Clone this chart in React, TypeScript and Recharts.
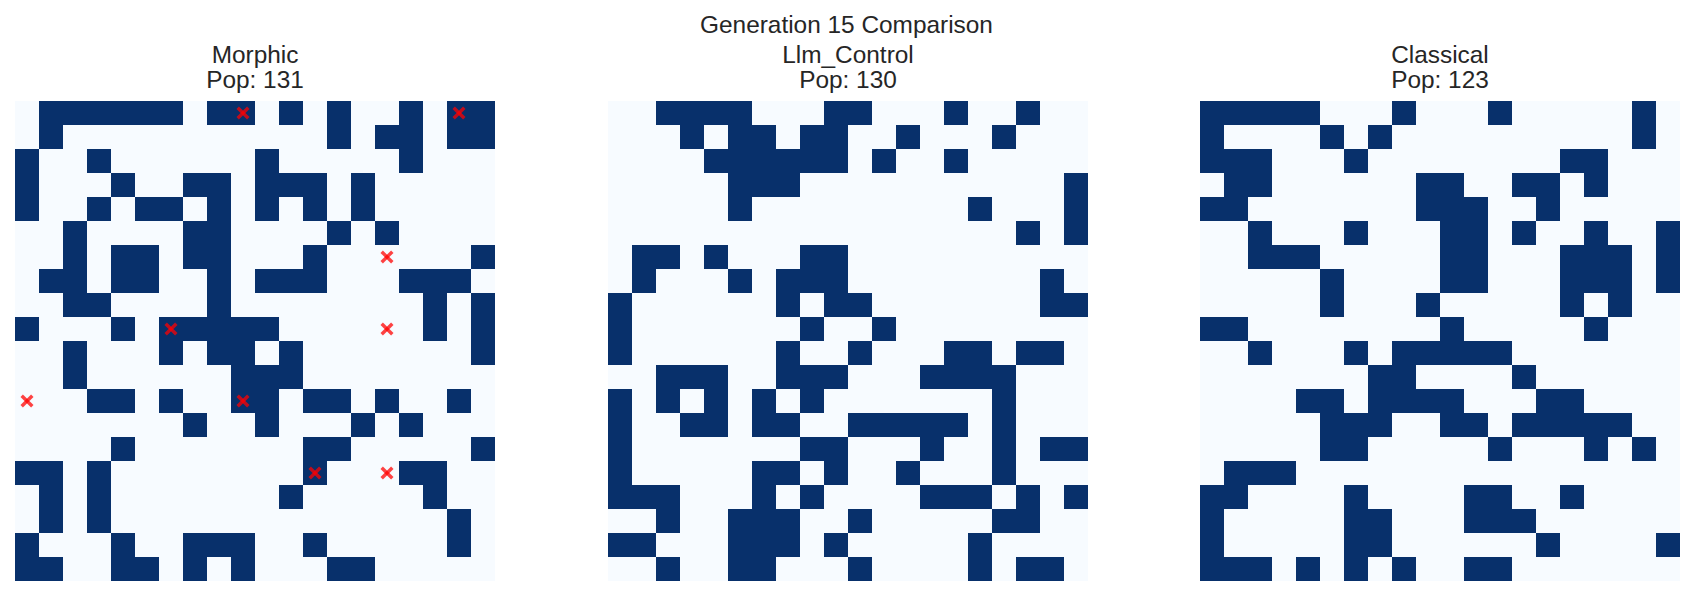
import React from "react";
import { ScatterChart, Scatter, XAxis, YAxis } from "recharts";

const MORPHIC_ROWS: number[][] = [
  [1, 2, 3, 4, 5, 6, 8, 9, 11, 13, 16, 18, 19],
  [1, 13, 15, 16, 18, 19],
  [0, 3, 10, 16],
  [0, 4, 7, 8, 10, 11, 12, 14],
  [0, 3, 5, 6, 8, 10, 12, 14],
  [2, 7, 8, 13, 15],
  [2, 4, 5, 7, 8, 12, 19],
  [1, 2, 4, 5, 8, 10, 11, 12, 16, 17, 18],
  [2, 3, 8, 17, 19],
  [0, 4, 6, 7, 8, 9, 10, 17, 19],
  [2, 6, 8, 9, 11, 19],
  [2, 9, 10, 11],
  [3, 4, 6, 9, 10, 12, 13, 15, 18],
  [7, 10, 14, 16],
  [4, 12, 13, 19],
  [0, 1, 3, 12, 16, 17],
  [1, 3, 11, 17],
  [1, 3, 18],
  [0, 4, 7, 8, 9, 12, 18],
  [0, 1, 4, 5, 7, 9, 13, 14],
];

const LLM_ROWS: number[][] = [
  [2, 3, 4, 5, 9, 10, 14, 17],
  [3, 5, 6, 8, 9, 12, 16],
  [4, 5, 6, 7, 8, 9, 11, 14],
  [5, 6, 7, 19],
  [5, 15, 19],
  [17, 19],
  [1, 2, 4, 8, 9],
  [1, 5, 7, 8, 9, 18],
  [0, 7, 9, 10, 18, 19],
  [0, 8, 11],
  [0, 7, 10, 14, 15, 17, 18],
  [2, 3, 4, 7, 8, 9, 13, 14, 15, 16],
  [0, 2, 4, 6, 8, 16],
  [0, 3, 4, 6, 7, 10, 11, 12, 13, 14, 16],
  [0, 8, 9, 13, 16, 18, 19],
  [0, 6, 7, 9, 12, 16],
  [0, 1, 2, 6, 8, 13, 14, 15, 17, 19],
  [2, 5, 6, 7, 10, 16, 17],
  [0, 1, 5, 6, 7, 9, 15],
  [2, 5, 6, 10, 15, 17, 18],
];

const CLASSICAL_ROWS: number[][] = [
  [0, 1, 2, 3, 4, 8, 12, 18],
  [0, 5, 7, 18],
  [0, 1, 2, 6, 15, 16],
  [1, 2, 9, 10, 13, 14, 16],
  [0, 1, 9, 10, 11, 14],
  [2, 6, 10, 11, 13, 16, 19],
  [2, 3, 4, 10, 11, 15, 16, 17, 19],
  [5, 10, 11, 15, 16, 17, 19],
  [5, 9, 15, 17],
  [0, 1, 10, 16],
  [2, 6, 8, 9, 10, 11, 12],
  [7, 8, 13],
  [4, 5, 7, 8, 9, 10, 14, 15],
  [5, 6, 7, 10, 11, 13, 14, 15, 16, 17],
  [5, 6, 12, 16, 18],
  [1, 2, 3],
  [0, 1, 6, 11, 12, 15],
  [0, 6, 7, 11, 12, 13],
  [0, 6, 7, 14, 19],
  [0, 1, 2, 4, 6, 8, 11, 12],
];

// red crosses on the morphic board
const MARK_ROWS = [0, 0, 6, 9, 9, 12, 12, 15, 15];
const MARK_COLS = [9, 18, 15, 6, 15, 0, 9, 12, 15];

const PANEL_NAMES = ["Morphic", "Llm_Control", "Classical"];
const PANEL_POPS = [131, 130, 123];
const SUPTITLE = "Generation 15 Comparison";

const GRID_N = 20;
const GRID_PX = 480;
const CELL_PX = GRID_PX / GRID_N;
const PANEL_LEFT = [15, 608, 1200];
const PANEL_TOP = 101;

const ALIVE = "#08306b";
const DEAD = "#f7fbff";
const TEXT = "#262626";
const FONT = "'Liberation Sans', Arial, sans-serif";

const toPoints = (rows: number[][]) =>
  rows.flatMap((cols, r) => cols.map((c) => ({ x: c + 0.5, y: r + 0.5 })));

const marks = MARK_ROWS.map((r, i) => ({ x: MARK_COLS[i] + 0.5, y: r + 0.5 }));

const cellShape = (props: any) => {
  const { cx, cy } = props;
  return (
    <rect
      x={cx - CELL_PX / 2}
      y={cy - CELL_PX / 2}
      width={CELL_PX}
      height={CELL_PX}
      fill={ALIVE}
      shapeRendering="crispEdges"
    />
  );
};

const crossShape = (props: any) => {
  const { cx, cy } = props;
  const h = 5.3;
  return (
    <g stroke="red" strokeOpacity={0.74} strokeWidth={3.4} strokeLinecap="butt">
      <line x1={cx - h} y1={cy - h} x2={cx + h} y2={cy + h} />
      <line x1={cx - h} y1={cy + h} x2={cx + h} y2={cy - h} />
    </g>
  );
};

function Board({ rows, withMarks }: { rows: number[][]; withMarks?: boolean }) {
  return (
    <ScatterChart
      width={GRID_PX}
      height={GRID_PX}
      margin={{ top: 0, right: 0, bottom: 0, left: 0 }}
      style={{ background: DEAD }}
    >
      <XAxis type="number" dataKey="x" domain={[0, GRID_N]} hide />
      <YAxis type="number" dataKey="y" domain={[0, GRID_N]} reversed hide />
      <Scatter data={toPoints(rows)} shape={cellShape} isAnimationActive={false} />
      {withMarks && (
        <Scatter data={marks} shape={crossShape} isAnimationActive={false} />
      )}
    </ScatterChart>
  );
}

const BOARDS = [MORPHIC_ROWS, LLM_ROWS, CLASSICAL_ROWS];

export default function App() {
  return (
    <div
      style={{
        position: "absolute",
        left: 0,
        top: 0,
        width: 1693,
        height: 595,
        background: "#ffffff",
        overflow: "hidden",
      }}
    >
      {BOARDS.map((rows, i) => (
        <div
          key={PANEL_NAMES[i]}
          style={{ position: "absolute", left: PANEL_LEFT[i], top: PANEL_TOP }}
        >
          <Board rows={rows} withMarks={i === 0} />
        </div>
      ))}
      <svg
        width={1693}
        height={100}
        style={{ position: "absolute", left: 0, top: 0 }}
        fontFamily={FONT}
        fill={TEXT}
      >
        <text x={846.5} y={33} fontSize={24.4} textAnchor="middle">
          {SUPTITLE}
        </text>
        {PANEL_NAMES.map((name, i) => (
          <text
            key={name}
            x={PANEL_LEFT[i] + GRID_PX / 2}
            fontSize={24.4}
            textAnchor="middle"
          >
            <tspan x={PANEL_LEFT[i] + GRID_PX / 2} y={63}>
              {name}
            </tspan>
            <tspan x={PANEL_LEFT[i] + GRID_PX / 2} y={88}>
              {`Pop: ${PANEL_POPS[i]}`}
            </tspan>
          </text>
        ))}
      </svg>
    </div>
  );
}
